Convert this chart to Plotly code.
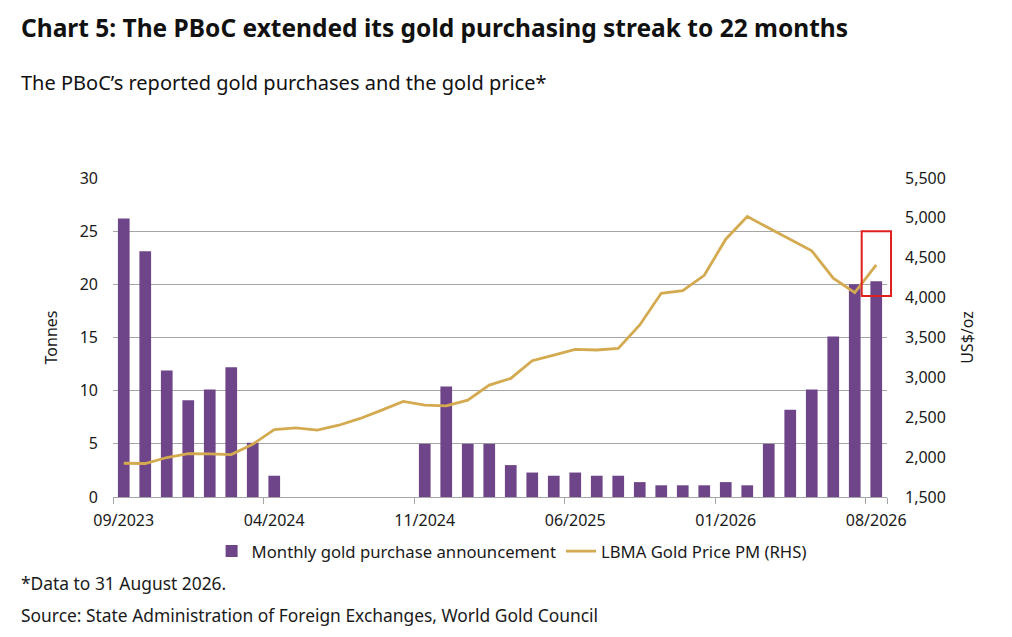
import plotly.graph_objects as go

months = [
    "09/2023", "10/2023", "11/2023", "12/2023", "01/2024", "02/2024", "03/2024", "04/2024",
    "05/2024", "06/2024", "07/2024", "08/2024", "09/2024", "10/2024", "11/2024", "12/2024",
    "01/2025", "02/2025", "03/2025", "04/2025", "05/2025", "06/2025", "07/2025", "08/2025",
    "09/2025", "10/2025", "11/2025", "12/2025", "01/2026", "02/2026", "03/2026", "04/2026",
    "05/2026", "06/2026", "07/2026", "08/2026",
]

gold_purchases_t = [
    26.2, 23.1, 11.9, 9.1, 10.1, 12.2, 5.1, 2.0,
    0, 0, 0, 0, 0, 0, 5.0, 10.4,
    5.0, 5.0, 3.0, 2.3, 2.0, 2.3, 2.0, 2.0,
    1.4, 1.1, 1.1, 1.1, 1.4, 1.1, 5.0, 8.2,
    10.1, 15.1, 20.0, 20.3,
]

gold_price_usd = [
    1923, 1920, 1995, 2045, 2040, 2032, 2162, 2346,
    2367, 2338, 2400, 2485, 2589, 2698, 2652, 2643,
    2715, 2903, 2987, 3209, 3280, 3352, 3343, 3364,
    3657, 4055, 4088, 4280, 4733, 5018, 4872, 4725,
    4587, 4244, 4063, 4411,
]

tick_labels = ["09/2023", "04/2024", "11/2024", "06/2025", "01/2026", "08/2026"]

PURPLE = "#6E4589"
GOLD = "#D4AA50"
GRID = "#A6A6A6"
FONT = "Noto Sans"
TXT = "#1a1a1a"

fig = go.Figure()
fig.add_trace(go.Bar(
    x=months, y=gold_purchases_t, name="Monthly gold purchase announcement",
    marker=dict(color=PURPLE, line=dict(width=0)), yaxis="y",
))
fig.add_trace(go.Scatter(
    x=months, y=gold_price_usd, name="LBMA Gold Price PM (RHS)",
    mode="lines", line=dict(color=GOLD, width=2.8), yaxis="y2",
))

fig.update_layout(
    width=1004, height=629,
    margin=dict(l=105, r=125, t=170, b=140),
    paper_bgcolor="white", plot_bgcolor="white",
    font=dict(family=FONT, size=16, color=TXT),
    bargap=0.456,
    showlegend=True,
    legend=dict(orientation="h", x=0.515, xanchor="center", y=-0.17, yanchor="middle",
                font=dict(size=16.7, color=TXT), traceorder="normal"),
    xaxis=dict(
        type="category", tickmode="array", tickvals=tick_labels, ticktext=tick_labels,
        tickson="boundaries", ticks="outside", ticklen=6, tickcolor=GRID, tickangle=0,
        showline=True, linecolor=GRID, linewidth=1.3, showgrid=False,
        tickfont=dict(size=16, color=TXT), ticklabelstandoff=9,
        range=[-0.5, len(months) - 0.5],
    ),
    yaxis=dict(
        range=[0, 30], dtick=5, showgrid=True, gridcolor=GRID, gridwidth=1.3,
        zeroline=False, showline=False, ticks="", tickfont=dict(size=16, color=TXT),
        ticklabelstandoff=14,
        title=dict(text="Tonnes", font=dict(size=16, color=TXT), standoff=18),
    ),
    yaxis2=dict(
        range=[1500, 5500], dtick=500, tickformat=",", overlaying="y", side="right",
        showgrid=False, zeroline=False, showline=False, ticks="",
        tickfont=dict(size=16, color=TXT), ticklabelstandoff=17,
        title=dict(text="US$/oz", font=dict(size=16, color=TXT), standoff=16),
    ),
    shapes=[dict(
        type="rect", xref="paper", yref="y", x0=0.9673, x1=1.0052, y0=18.9, y1=25.0,
        line=dict(color="#E0201E", width=2), fillcolor="rgba(0,0,0,0)", layer="above",
    )],
    annotations=[
        dict(text="<b>Chart 5: The PBoC extended its gold purchasing streak to 22 months</b>",
             xref="paper", yref="paper", x=-0.1214, y=1.472, xanchor="left", yanchor="middle",
             showarrow=False, font=dict(size=24.5, color="#111111", family=FONT)),
        dict(text="The PBoC’s reported gold purchases and the gold price*",
             xref="paper", yref="paper", x=-0.1214, y=1.299, xanchor="left", yanchor="middle",
             showarrow=False, font=dict(size=20, color="#111111", family=FONT)),
        dict(text="*Data to 31 August 2026.",
             xref="paper", yref="paper", x=-0.1214, y=-0.271, xanchor="left", yanchor="middle",
             showarrow=False, font=dict(size=17.4, color=TXT, family=FONT)),
        dict(text="Source: State Administration of Foreign Exchanges, World Gold Council",
             xref="paper", yref="paper", x=-0.1214, y=-0.369, xanchor="left", yanchor="middle",
             showarrow=False, font=dict(size=17.4, color=TXT, family=FONT)),
    ],
)

fig.write_html("out.html")
